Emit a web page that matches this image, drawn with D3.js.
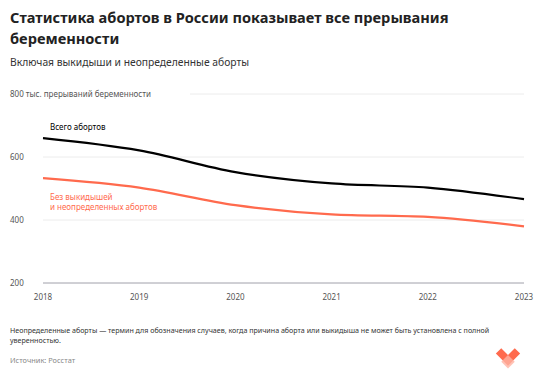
<!DOCTYPE html>
<html>
<head>
<meta charset="utf-8">
<script src="https://cdn.jsdelivr.net/npm/d3@7"></script>
<style>
  body { margin: 0; background: #fff; font-family: "Noto Sans", sans-serif; }
  svg { display: block; }
</style>
</head>
<body>
<svg width="548" height="377"></svg>
<script>
var years = [2018, 2019, 2020, 2021, 2022, 2023]
var totalAbortions = [660, 621, 552, 516, 503, 466]
var withoutMiscarriages = [533, 503, 447, 418, 410, 380]
var yTicks = [200, 400, 600, 800]

var svg = d3.select("svg")
var orange = "#ff6a4d"

var x = d3.scaleLinear().domain([2018, 2023]).range([43, 524])
var y = d3.scaleLinear().domain([200, 800]).range([283, 94])

// title block
svg.append("text").attr("x", 10).attr("y", 23)
    .style("font-size", "14.6px").style("font-weight", 700).attr("fill", "#222")
    .text("Статистика абортов в России показывает все прерывания")
svg.append("text").attr("x", 10).attr("y", 44)
    .style("font-size", "14.6px").style("font-weight", 700).attr("fill", "#222")
    .text("беременности")
svg.append("text").attr("x", 10).attr("y", 66)
    .style("font-size", "10.3px").attr("fill", "#333")
    .text("Включая выкидыши и неопределенные аборты")

// grid
svg.append("g").selectAll("line")
    .data(yTicks)
    .enter().append("line")
    .attr("x1", d => d === 800 ? 190 : 43).attr("x2", 524)
    .attr("y1", d => y(d)).attr("y2", d => y(d))
    .attr("stroke", d => d === 200 ? "#a0a0aa" : "#ececec")
    .attr("stroke-width", 1)

svg.append("g").selectAll("text")
    .data(yTicks)
    .enter().append("text")
    .attr("x", 10).attr("y", d => y(d) + 3)
    .style("font-size", "8px").attr("fill", "#555")
    .text(d => d === 800 ? "800 тыс. прерываний беременности" : d)

// x labels
svg.append("g").selectAll("text")
    .data(years)
    .enter().append("text")
    .attr("x", d => x(d)).attr("y", 300)
    .attr("text-anchor", "middle")
    .style("font-size", "8px").attr("fill", "#555")
    .text(d => d)

var line = d3.line()
    .x((d, i) => x(years[i]))
    .y(d => y(d))
    .curve(d3.curveMonotoneX)

svg.append("path").datum(withoutMiscarriages)
    .attr("d", line).attr("fill", "none")
    .attr("stroke", orange).attr("stroke-width", 2.2)

svg.append("path").datum(totalAbortions)
    .attr("d", line).attr("fill", "none")
    .attr("stroke", "#000").attr("stroke-width", 2.2)

// series labels
svg.append("text").attr("x", 50).attr("y", 130)
    .style("font-size", "8px").attr("fill", "#000")
    .text("Всего абортов")
svg.append("text").attr("x", 50).attr("y", 200)
    .style("font-size", "8px").attr("fill", orange)
    .text("Без выкидышей")
svg.append("text").attr("x", 50).attr("y", 210)
    .style("font-size", "8px").attr("fill", orange)
    .text("и неопределенных абортов")

// footnote
svg.append("text").attr("x", 10).attr("y", 333)
    .style("font-size", "7.1px").attr("fill", "#333")
    .text("Неопределенные аборты — термин для обозначения случаев, когда причина аборта или выкидыша не может быть установлена с полной")
svg.append("text").attr("x", 10).attr("y", 343)
    .style("font-size", "7.1px").attr("fill", "#333")
    .text("уверенностью.")
svg.append("text").attr("x", 10).attr("y", 363)
    .style("font-size", "7.4px").attr("fill", "#888")
    .text("Источник: Росстат")

// logo
var logo = svg.append("g").attr("transform", "translate(508,359) scale(1.35)")
logo.append("path").attr("d", "M-9,-4 L-5,-8 L0,-3 L5,-8 L9,-4 L0,5 Z").attr("fill", orange)
logo.append("path").attr("d", "M0,-3 L5,2 L0,7 L-5,2 Z").attr("fill", "#ffb3a3").attr("opacity", 0.8)
</script>
</body>
</html>
